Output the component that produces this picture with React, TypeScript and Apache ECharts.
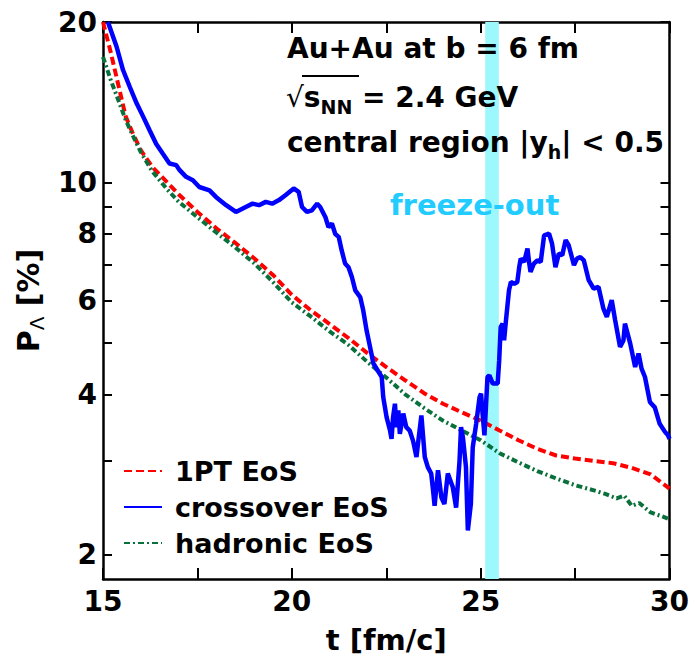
import React, { useEffect, useRef } from "react";
import * as echarts from "echarts";

// ---- data ----
const onePtT = [15, 15.2, 15.4, 15.6, 15.8, 16, 16.3, 16.7, 17, 17.5, 18, 18.5, 19, 19.5, 20, 20.5, 21, 21.5, 22, 22.5, 23, 23.5, 24, 24.5, 25, 25.5, 26, 26.5, 27, 27.5, 28, 28.5, 29, 29.5, 30];
const onePtP = [20, 17.6, 15.3, 13.3, 12.3, 11.5, 10.7, 10.0, 9.5, 8.8, 8.2, 7.7, 7.2, 6.7, 6.15, 5.75, 5.42, 5.1, 4.78, 4.5, 4.25, 4.02, 3.84, 3.7, 3.57, 3.42, 3.28, 3.16, 3.07, 3.03, 3.0, 2.97, 2.91, 2.83, 2.66];

const hadronicT = [15, 15.2, 15.4, 15.6, 15.8, 16, 16.3, 16.7, 17, 17.5, 18, 18.5, 19, 19.5, 20, 20.5, 21, 21.5, 22, 22.5, 23, 23.5, 24, 24.5, 25, 25.5, 26, 26.5, 27, 27.5, 28, 28.3, 28.6, 28.8, 29, 29.2, 29.5, 29.8, 30];
const hadronicP = [17.2, 15.6, 14.3, 13.1, 12.2, 11.4, 10.5, 9.7, 9.2, 8.6, 8.05, 7.55, 7.05, 6.5, 5.95, 5.6, 5.25, 4.95, 4.6, 4.3, 4.0, 3.77, 3.57, 3.42, 3.28, 3.1, 2.98, 2.87, 2.78, 2.7, 2.64, 2.6, 2.55, 2.58, 2.47, 2.5, 2.4, 2.36, 2.33];

const crossoverT = [15.13, 15.36, 15.53, 15.71, 15.89, 16.06, 16.24, 16.41, 16.59, 16.76, 16.94, 17.03, 17.2, 17.38, 17.55, 17.82, 17.99, 18.26, 18.52, 18.78, 18.96, 19.13, 19.31, 19.48, 19.66, 19.83, 20.05, 20.18, 20.27, 20.4, 20.53, 20.67, 20.75, 20.89, 20.97, 21.06, 21.15, 21.24, 21.32, 21.41, 21.5, 21.59, 21.68, 21.81, 21.89, 21.98, 22.07, 22.16, 22.38, 22.42, 22.51, 22.6, 22.64, 22.68, 22.73, 22.77, 22.82, 22.86, 22.95, 23.03, 23.12, 23.21, 23.3, 23.34, 23.43, 23.52, 23.6, 23.69, 23.74, 23.78, 23.87, 23.96, 24.04, 24.13, 24.26, 24.35, 24.44, 24.48, 24.53, 24.61, 24.66, 24.74, 24.79, 24.88, 24.97, 25.01, 25.05, 25.1, 25.18, 25.23, 25.32, 25.45, 25.49, 25.53, 25.58, 25.62, 25.67, 25.75, 25.8, 25.89, 25.97, 26.02, 26.06, 26.15, 26.24, 26.28, 26.32, 26.41, 26.5, 26.59, 26.68, 26.81, 26.89, 26.98, 27.07, 27.16, 27.25, 27.33, 27.47, 27.55, 27.64, 27.73, 27.86, 27.99, 28.12, 28.25, 28.34, 28.47, 28.56, 28.69, 28.78, 28.82, 28.96, 29.09, 29.18, 29.26, 29.35, 29.48, 29.61, 29.74, 29.88, 29.96, 30];
const crossoverP = [20, 17.97, 16.25, 15.1, 14.07, 13.3, 12.5, 11.8, 11.3, 10.85, 10.77, 10.54, 10.24, 10.09, 9.8, 9.66, 9.39, 9.06, 8.8, 8.99, 9.12, 9.06, 9.19, 9.12, 9.26, 9.46, 9.74, 9.6, 8.99, 8.8, 8.86, 9.12, 8.99, 8.6, 8.24, 8.37, 8.0, 7.9, 7.45, 7.04, 6.93, 6.64, 6.27, 6.09, 5.75, 5.27, 4.91, 4.57, 4.31, 3.95, 3.62, 3.42, 3.3, 3.62, 3.84, 3.47, 3.73, 3.37, 3.68, 3.47, 3.42, 3.27, 3.05, 3.23, 3.65, 3.05, 2.92, 2.84, 2.64, 2.47, 2.88, 2.56, 2.49, 2.84, 2.68, 2.45, 3.0, 3.47, 3.32, 2.92, 2.22, 2.49, 3.18, 3.52, 3.95, 4.01, 3.68, 3.35, 4.31, 4.34, 4.19, 4.19, 4.63, 5.35, 5.43, 5.05, 5.51, 6.27, 6.5, 6.45, 6.5, 6.93, 7.19, 7.09, 7.51, 7.09, 6.79, 7.04, 7.14, 7.09, 7.95, 8.01, 7.67, 6.93, 7.35, 7.3, 7.79, 7.62, 6.99, 7.19, 7.24, 7.14, 6.55, 6.32, 6.36, 5.79, 5.59, 6.01, 5.51, 4.91, 5.05, 5.43, 4.98, 4.5, 4.77, 4.47, 4.31, 3.87, 3.78, 3.52, 3.4, 3.35, 3.3];

const freezeOut = [25.12, 25.48];

const xTickValues = [15, 17.5, 20, 22.5, 25, 27.5, 30];
const xLabelValues = [15, 20, 25, 30];
const yTickValues = [2, 3, 4, 5, 6, 7, 8, 9, 10, 20];
const yLabelValues = [2, 4, 6, 8, 10, 20];

const seriesNames = ["1PT EoS", "crossover EoS", "hadronic EoS"];

const FONT = "'DejaVu Sans', sans-serif";

function pairs(t: number[], v: number[]) {
  return t.map((x, i) => [x, v[i]]);
}

export default function App() {
  const ref = useRef<HTMLDivElement>(null);

  useEffect(() => {
    document.body.style.margin = "0";
    if (!ref.current) return;
    const chart = echarts.init(ref.current, undefined, { renderer: "svg" });

    const tickStyle = { show: true, inside: true, length: 9, lineStyle: { color: "#000", width: 2 } };
    const axisLine = { show: true, onZero: false, lineStyle: { color: "#000", width: 2.5 } };
    const labelStyle = { fontSize: 28, fontWeight: "bold", fontFamily: FONT, color: "#000" };

    const option: any = {
      animation: false,
      backgroundColor: "#fff",
      grid: { left: 103, right: 19, top: 22, bottom: 83, containLabel: false },
      legend: {
        show: true,
        data: seriesNames,
        orient: "vertical",
        left: 118,
        top: 451,
        itemWidth: 38,
        itemHeight: 14,
        itemGap: 6,
        itemStyle: { opacity: 0 },
        textStyle: { fontSize: 27, fontWeight: "bold", fontFamily: FONT, color: "#000", lineHeight: 30, padding: [0, 0, 0, 8] },
        selectedMode: false,
      },
      xAxis: [
        {
          type: "value",
          min: 15,
          max: 30,
          interval: 5,
          position: "bottom",
          axisLine,
          axisTick: { ...tickStyle, length: 11, customValues: xTickValues },
          axisLabel: { ...labelStyle, margin: 8, customValues: xLabelValues },
          splitLine: { show: false },
          name: "t [fm/c]",
          nameLocation: "middle",
          nameGap: 46,
          nameTextStyle: { fontSize: 29, fontWeight: "bold", fontFamily: FONT, color: "#000" },
        },
        {
          type: "value",
          min: 15,
          max: 30,
          interval: 5,
          position: "top",
          axisLine,
          axisTick: { ...tickStyle, length: 11, customValues: xTickValues },
          axisLabel: { show: false },
          splitLine: { show: false },
        },
      ],
      yAxis: [
        {
          type: "log",
          logBase: 10,
          min: 1.8,
          max: 20,
          position: "left",
          axisLine,
          axisTick: { ...tickStyle, customValues: yTickValues },
          axisLabel: { ...labelStyle, margin: 6, customValues: yLabelValues },
          splitLine: { show: false },
          minorTick: { show: false },
          name: "{p|P}{s|Λ}{p| [%]}",
          nameLocation: "middle",
          nameGap: 50,
          nameTextStyle: {
            fontSize: 29,
            fontWeight: "bold",
            fontFamily: FONT,
            color: "#000",
            rich: {
              p: { fontSize: 30, fontWeight: "bold", fontFamily: FONT, color: "#000", lineHeight: 38 },
              s: { fontSize: 20, fontWeight: "normal", fontFamily: FONT, color: "#000", lineHeight: 20, verticalAlign: "bottom" },
            },
          },
        },
        {
          type: "log",
          logBase: 10,
          min: 1.8,
          max: 20,
          position: "right",
          axisLine,
          axisTick: { ...tickStyle, customValues: yTickValues },
          axisLabel: { show: false },
          splitLine: { show: false },
        },
      ],
      series: [
        {
          name: "band",
          type: "line",
          data: [],
          z: 1,
          silent: true,
          markArea: {
            silent: true,
            itemStyle: { color: "#9cf8fc", opacity: 1 },
            data: [[{ xAxis: freezeOut[0] }, { xAxis: freezeOut[1] }]],
          },
        },
        {
          name: seriesNames[0],
          type: "line",
          z: 3,
          symbol: "none",
          showSymbol: false,
          data: pairs(onePtT, onePtP),
          lineStyle: { color: "#ff0000", width: 4, type: [8, 4] },
          itemStyle: { color: "#ff0000" },
        },
        {
          name: seriesNames[2],
          type: "line",
          z: 3,
          symbol: "none",
          showSymbol: false,
          data: pairs(hadronicT, hadronicP),
          lineStyle: { color: "#08703a", width: 4, type: [6, 3, 2, 3] },
          itemStyle: { color: "#08703a" },
        },
        {
          name: seriesNames[1],
          type: "line",
          z: 4,
          symbol: "none",
          showSymbol: false,
          data: pairs(crossoverT, crossoverP),
          lineStyle: { color: "#0000ff", width: 4.5 },
          itemStyle: { color: "#0000ff" },
        },
      ],
      graphic: [
        {
          type: "text",
          x: 287,
          y: 48,
          z: 10,
          style: { text: "Au+Au at b = 6 fm", fontSize: 28, fontWeight: "bold", fontFamily: FONT, fill: "#000", verticalAlign: "middle" },
        },
        {
          type: "text",
          x: 286,
          y: 97,
          z: 10,
          style: {
            text: "{r|√}{m|s}{sub|NN}{m| = 2.4 GeV}",
            verticalAlign: "middle",
            rich: {
              r: { fontSize: 28, fontWeight: "normal", fontFamily: FONT, fill: "#000", lineHeight: 38 },
              m: { fontSize: 28, fontWeight: "bold", fontFamily: FONT, fill: "#000", lineHeight: 38 },
              sub: { fontSize: 19, fontWeight: "bold", fontFamily: FONT, fill: "#000", lineHeight: 18, verticalAlign: "bottom" },
            },
          },
        },
        {
          type: "line",
          z: 10,
          shape: { x1: 302, y1: 76, x2: 359, y2: 76 },
          style: { stroke: "#000", lineWidth: 2 },
        },
        {
          type: "text",
          x: 287,
          y: 142,
          z: 10,
          style: {
            text: "{m|central region |y}{sub|h}{m|| < 0.5}",
            verticalAlign: "middle",
            rich: {
              m: { fontSize: 28, fontWeight: "bold", fontFamily: FONT, fill: "#000", lineHeight: 38 },
              sub: { fontSize: 19, fontWeight: "bold", fontFamily: FONT, fill: "#000", lineHeight: 18, verticalAlign: "bottom" },
            },
          },
        },
        {
          type: "text",
          x: 390,
          y: 205,
          z: 10,
          style: { text: "freeze-out", fontSize: 29, fontWeight: "bold", fontFamily: FONT, fill: "#22ccff", verticalAlign: "middle" },
        },
      ],
    };

    chart.setOption(option);
    return () => chart.dispose();
  }, []);

  return <div ref={ref} style={{ width: 692, height: 662 }} />;
}
